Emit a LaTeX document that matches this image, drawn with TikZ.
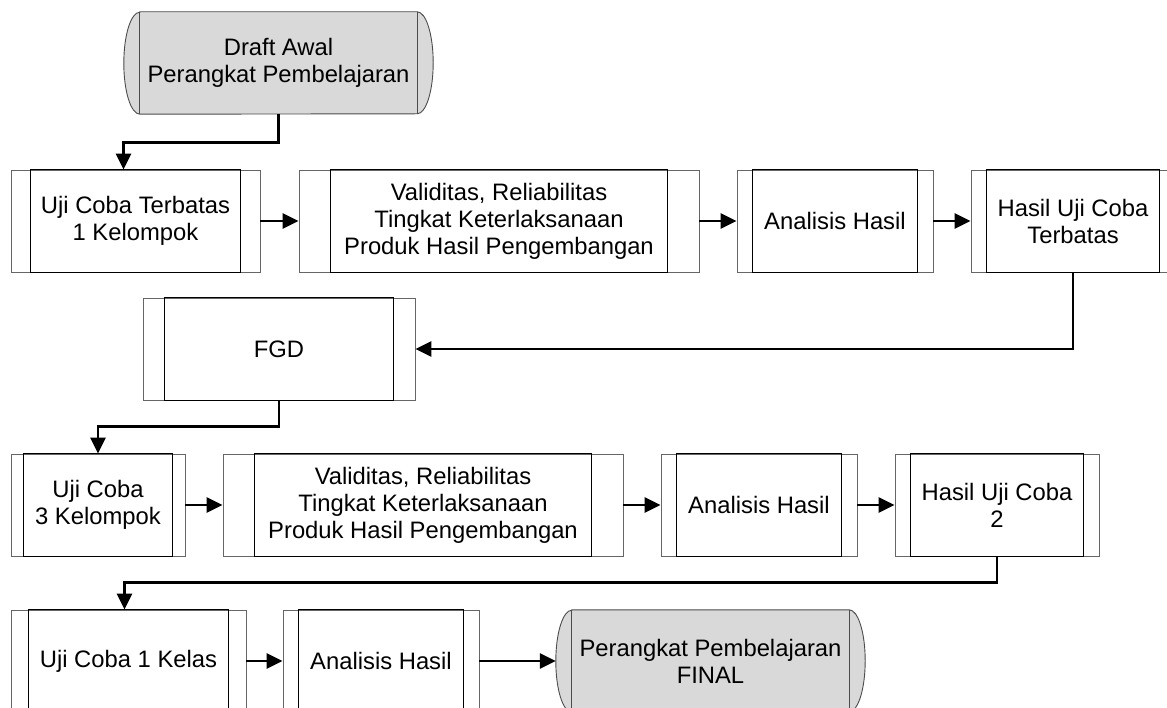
\documentclass[tikz,border=0pt]{standalone}
\usepackage{fontspec}
\setmainfont{Liberation Sans}
\usepackage{tikz}
\usetikzlibrary{arrows.meta, backgrounds}
\newcommand{\boxfont}{\fontsize{23.8}{27}\selectfont}

\begin{document}
\begin{tikzpicture}[x=1pt, y=-1pt,
        proc/.style={draw=black!60, line width=0.9pt, minimum width=#1, minimum height=102pt, inner sep=0pt, align=center, font=\boxfont},
        term/.style={minimum width=#1, minimum height=102pt, inner sep=0pt, align=center, font=\boxfont},
        flow/.style={line width=2.7pt, -{Triangle[length=16pt, width=15pt]}}]
        \useasboundingbox (0,0) rectangle (1167,708);

        % Start: first draft
        \node[term=277pt] (draft) at (278.5, 63) {Draft Awal\\Perangkat Pembelajaran};

        % First trial row
        \node[proc=249pt] (uji1) at (135.5, 221) {Uji Coba Terbatas\\1 Kelompok};
        \node[proc=400pt] (val1) at (499, 221) {Validitas, Reliabilitas\\Tingkat Keterlaksanaan\\Produk Hasil Pengembangan};
        \node[proc=196pt] (ana1) at (835, 221) {Analisis Hasil};
        \node[proc=204pt] (has1) at (1073, 221) {Hasil Uji Coba\\Terbatas};

        \node[proc=272pt] (fgd) at (279, 349) {FGD};

        % Second trial row
        \node[proc=174pt] (uji2) at (98, 505) {Uji Coba\\3 Kelompok};
        \node[proc=400pt] (val2) at (423, 505) {Validitas, Reliabilitas\\Tingkat Keterlaksanaan\\Produk Hasil Pengembangan};
        \node[proc=196pt] (ana2) at (759, 505) {Analisis Hasil};
        \node[proc=204pt] (has2) at (997, 505) {Hasil Uji Coba\\2};

        % Class trial and final product
        \node[proc=235pt] (uji3) at (128.5, 661) {Uji Coba 1 Kelas};
        \node[proc=196pt] (ana3) at (381, 661) {Analisis Hasil};
        \node[term=277pt] (final) at (710.5, 661) {Perangkat Pembelajaran\\FINAL};

        % Side bars of the process boxes
        \foreach \n/\d in {uji1/20, val1/32, ana1/16, has1/16, fgd/22, uji2/13, val2/32, ana2/16, has2/16, uji3/18, ana3/16}
            \draw[line width=0.9pt] ([xshift=\d pt]\n.north west) rectangle ([xshift=-\d pt]\n.south east);

        % Rounded ends of the start and end shapes
        \begin{pgfonlayer}{background}
            \foreach \n in {draft, final} {
                \draw[draw=black!70, fill=black!15, line width=0.9pt] (\n.north west) -- (\n.north east)
                    arc[start angle=90, end angle=-90, x radius=16pt, y radius=51pt] -- (\n.south west)
                    arc[start angle=270, end angle=90, x radius=16pt, y radius=51pt] -- cycle;
                \draw[draw=black!70, line width=0.9pt] (\n.north west) -- (\n.south west) (\n.north east) -- (\n.south east);
            }
        \end{pgfonlayer}

        % Arrows
        \draw[flow] (draft.south) -- ++(0,28) -| ([xshift=-12pt]uji1.north);
        \draw[flow] (uji1) -- (val1);
        \draw[flow] (val1) -- (ana1);
        \draw[flow] (ana1) -- (has1);
        \draw[flow] (has1.south) |- (fgd.east);
        \draw[flow] (fgd.south) -- ++(0,26) -| (uji2.north);
        \draw[flow] (uji2) -- (val2);
        \draw[flow] (val2) -- (ana2);
        \draw[flow] (ana2) -- (has2);
        \draw[flow] (has2.south) -- ++(0,26) -| ([xshift=-4pt]uji3.north);
        \draw[flow] (uji3) -- (ana3);
        \draw[flow] (ana3) -- ([xshift=-16pt]final.west);
    \end{tikzpicture}
\end{document}
